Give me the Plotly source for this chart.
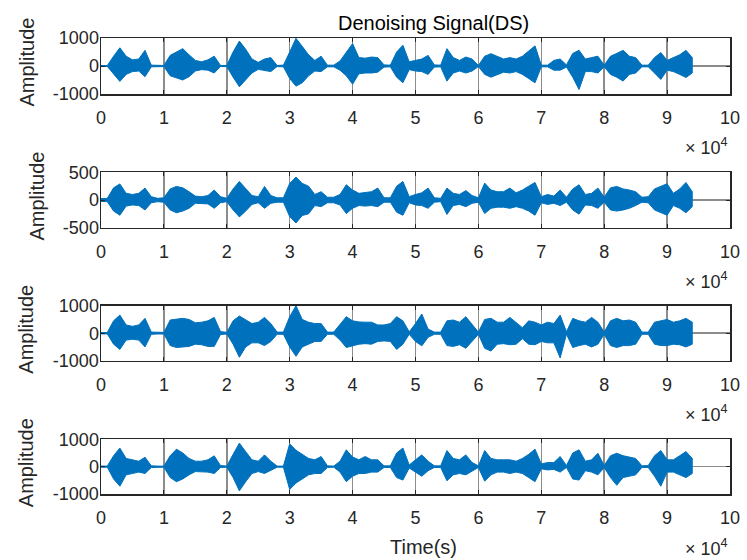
import numpy as np
import plotly.graph_objects as go

# ---------------- data (envelope of each waveform, read every 1000 samples) ----------------
SAMPLE_STEP = 1000
X_TICK_VALUES = [0, 10000, 20000, 30000, 40000, 50000, 60000, 70000, 80000, 90000, 100000]
X_TICK_LABELS = ["0", "1", "2", "3", "4", "5", "6", "7", "8", "9", "10"]

s1_upper = [15, 15, 350, 650, 350, 220, 250, 560, 30, 15,
            20, 380, 500, 620, 400, 200, 150, 220, 350, 20,
            20, 500, 890, 600, 250, 130, 250, 300, 20, 30,
            500, 990, 700, 400, 200, 350, 30, 30, 180, 500,
            800, 300, 280, 320, 300, 40, 30, 500, 740, 150,
            200, 250, 380, 40, 30, 620, 300, 200, 320, 250,
            20, 350, 440, 350, 250, 300, 250, 350, 550, 720,
            30, 30, 200, 250, 40, 450, 560, 250, 300, 350,
            30, 350, 450, 560, 350, 300, 30, 30, 300, 480,
            200, 300, 400, 560, 300]
s1_lower = [-15, -15, -300, -550, -300, -200, -180, -380, -30, -15,
            -20, -350, -420, -500, -380, -180, -130, -150, -250, -20,
            -20, -400, -740, -500, -250, -120, -150, -200, -20, -30,
            -450, -720, -600, -350, -180, -200, -30, -30, -150, -350,
            -650, -280, -250, -250, -220, -40, -30, -400, -600, -130,
            -180, -200, -300, -40, -30, -540, -250, -180, -250, -180,
            -20, -300, -400, -300, -220, -250, -200, -300, -450, -600,
            -30, -30, -150, -150, -40, -400, -840, -200, -200, -250,
            -30, -300, -400, -540, -300, -250, -30, -30, -250, -480,
            -150, -200, -300, -410, -250]

s2_upper = [25, 30, 220, 290, 120, 100, 120, 215, 60, 30,
            40, 200, 245, 220, 150, 70, 60, 80, 180, 60,
            30, 200, 335, 200, 80, 60, 245, 80, 40, 40,
            300, 415, 300, 250, 100, 150, 50, 50, 100, 275,
            180, 120, 130, 150, 215, 40, 40, 250, 335, 60,
            100, 130, 215, 40, 30, 215, 120, 100, 170, 80,
            40, 305, 180, 150, 150, 215, 130, 180, 250, 317,
            60, 100, 70, 180, 50, 200, 275, 100, 120, 215,
            50, 220, 245, 200, 180, 150, 50, 60, 200, 250,
            293, 120, 200, 317, 150]
s2_lower = [-25, -30, -200, -275, -110, -90, -100, -180, -50, -30,
            -40, -180, -230, -200, -150, -60, -60, -70, -150, -50,
            -30, -180, -305, -200, -80, -50, -150, -60, -40, -40,
            -300, -415, -280, -250, -100, -120, -50, -50, -90, -245,
            -150, -100, -110, -100, -120, -40, -40, -220, -275, -50,
            -90, -100, -150, -40, -30, -260, -100, -80, -120, -60,
            -40, -245, -150, -130, -130, -150, -120, -150, -200, -275,
            -50, -80, -60, -100, -40, -180, -255, -90, -100, -150,
            -40, -180, -200, -180, -150, -100, -40, -50, -180, -230,
            -275, -100, -150, -230, -120]

s3_upper = [25, 25, 450, 660, 300, 250, 300, 540, 40, 30,
            30, 480, 520, 540, 500, 380, 400, 450, 575, 60,
            30, 450, 625, 500, 350, 400, 575, 350, 40, 40,
            600, 1000, 500, 400, 350, 350, 40, 40, 300, 600,
            450, 410, 400, 400, 300, 300, 350, 600, 450, 50,
            350, 700, 150, 40, 40, 450, 480, 400, 600, 300,
            40, 500, 540, 400, 400, 575, 400, 200, 450, 400,
            300, 400, 350, 660, 50, 540, 450, 400, 575, 400,
            40, 450, 540, 450, 480, 400, 40, 40, 400, 450,
            500, 400, 450, 540, 400]
s3_lower = [-25, -25, -400, -590, -250, -220, -250, -500, -40, -30,
            -30, -450, -520, -500, -480, -400, -420, -480, -480, -50,
            -30, -400, -875, -500, -350, -350, -450, -300, -40, -40,
            -500, -840, -500, -400, -300, -300, -40, -40, -250, -520,
            -450, -400, -380, -400, -300, -280, -300, -590, -400, -40,
            -300, -460, -150, -40, -40, -450, -480, -420, -550, -300,
            -40, -550, -650, -400, -380, -420, -400, -200, -400, -420,
            -300, -350, -350, -900, -40, -520, -450, -400, -500, -400,
            -40, -450, -520, -450, -450, -400, -40, -40, -400, -450,
            -450, -400, -420, -500, -400]

s4_upper = [20, 20, 400, 680, 300, 250, 200, 345, 30, 20,
            20, 400, 640, 500, 300, 200, 200, 250, 395, 40,
            20, 450, 860, 550, 250, 200, 430, 200, 20, 20,
            835, 600, 450, 300, 250, 370, 30, 20, 200, 615,
            350, 250, 370, 250, 250, 30, 30, 500, 680, 60,
            250, 430, 200, 30, 30, 590, 300, 250, 430, 150,
            30, 590, 300, 250, 250, 250, 200, 300, 450, 640,
            100, 150, 150, 370, 40, 500, 615, 200, 250, 490,
            40, 400, 490, 400, 350, 300, 30, 40, 400, 590,
            250, 250, 400, 550, 300]
s4_lower = [-20, -20, -450, -715, -300, -250, -200, -250, -30, -20,
            -20, -400, -550, -450, -300, -180, -180, -200, -250, -30,
            -20, -400, -885, -550, -250, -180, -250, -150, -20, -20,
            -835, -600, -450, -300, -250, -250, -30, -20, -200, -550,
            -350, -250, -250, -200, -200, -30, -30, -400, -490, -50,
            -200, -350, -150, -30, -30, -515, -300, -250, -300, -150,
            -30, -530, -300, -200, -200, -250, -200, -250, -400, -550,
            -80, -120, -100, -200, -30, -450, -490, -150, -200, -300,
            -30, -400, -680, -400, -350, -300, -30, -30, -350, -715,
            -200, -200, -300, -400, -250]

series = [(s1_upper, s1_lower), (s2_upper, s2_lower), (s3_upper, s3_lower), (s4_upper, s4_lower)]
y_ranges = [(-1000, 1000), (-500, 500), (-1000, 1000), (-1000, 1000)]
y_tick_values = [[-1000, 0, 1000], [-500, 0, 500], [-1000, 0, 1000], [-1000, 0, 1000]]
y_tick_labels = [["-1000", "0", "1000"], ["-500", "0", "500"], ["-1000", "0", "1000"], ["-1000", "0", "1000"]]

# ---------------- layout geometry (pixels) ----------------
W, H = 747, 560
X0, X1 = 101, 730
AX_TOPS = [38, 172.3, 305.7, 439.3]
AX_BOTS = [94, 227.7, 360.7, 494]
BLUE = "#0072BD"
DARK = "#262626"
FONT = "Liberation Sans, Arial, Helvetica, sans-serif"

fig = go.Figure()
layout = dict(template="none", width=W, height=H,
              margin=dict(l=0, r=0, t=0, b=0, pad=0, autoexpand=False),
              paper_bgcolor="white", plot_bgcolor="white", showlegend=False,
              font=dict(family=FONT, color=DARK, size=18))
annotations = []

for k, (up, lo) in enumerate(series):
    xs = (np.arange(len(up)) * SAMPLE_STEP).tolist()
    px = xs + xs[::-1]
    py = list(up) + list(lo)[::-1]
    xa = "x" if k == 0 else f"x{k+1}"
    ya = "y" if k == 0 else f"y{k+1}"
    fig.add_trace(go.Scatter(x=px, y=py, mode="lines", fill="toself",
                             fillcolor=BLUE, line=dict(color=BLUE, width=1),
                             xaxis=xa, yaxis=ya, hoverinfo="skip"))
    dom_y = [1 - AX_BOTS[k] / H, 1 - AX_TOPS[k] / H]
    xkey = "xaxis" if k == 0 else f"xaxis{k+1}"
    ykey = "yaxis" if k == 0 else f"yaxis{k+1}"
    layout[xkey] = dict(domain=[X0 / W, X1 / W], range=[0, 100000], anchor=ya, automargin=False,
                        tickvals=X_TICK_VALUES, ticktext=X_TICK_LABELS,
                        showgrid=True, gridcolor="#8c8c8c", gridwidth=1.5,
                        zeroline=False, showline=True, linecolor=DARK, linewidth=1.5,
                        mirror="allticks", ticks="inside", ticklen=4, tickcolor=DARK,
                        tickfont=dict(size=18, color=DARK), ticklabelstandoff=7)
    layout[ykey] = dict(domain=dom_y, range=list(y_ranges[k]), anchor=xa, automargin=False,
                        tickvals=y_tick_values[k], ticktext=y_tick_labels[k],
                        showgrid=True, gridcolor="#8c8c8c", gridwidth=1.5,
                        zeroline=False, showline=True, linecolor=DARK, linewidth=1.5,
                        mirror="allticks", ticks="inside", ticklen=4, tickcolor=DARK,
                        tickfont=dict(size=18, color=DARK), ticklabelstandoff=-3)
    # y label
    lab_x = 36 if k == 1 else 26
    annotations.append(dict(text="Amplitude", x=lab_x / W, y=1 - ((AX_TOPS[k] + AX_BOTS[k]) / 2 - 3.5) / H,
                            xref="paper", yref="paper", showarrow=False, textangle=-90,
                            xanchor="center", yanchor="middle", font=dict(size=20, color=DARK)))
    # exponent label
    annotations.append(dict(text="× 10<sup>4</sup>", x=X1 / W, y=1 - (AX_BOTS[k] + 53) / H,
                            xref="paper", yref="paper", showarrow=False,
                            xanchor="right", yanchor="middle", font=dict(size=18, color=DARK)))

annotations.append(dict(text="Denoising Signal(DS)", x=433 / W, y=1 - 23 / H, xref="paper", yref="paper",
                        showarrow=False, xanchor="center", yanchor="middle", font=dict(size=20, color="black")))
annotations.append(dict(text="Time(s)", x=424 / W, y=1 - 546.5 / H, xref="paper", yref="paper",
                        showarrow=False, xanchor="center", yanchor="middle", font=dict(size=20, color=DARK)))

layout["annotations"] = annotations
fig.update_layout(**layout)
fig.write_html("out.html", config={"displayModeBar": False, "staticPlot": True},
               post_script="document.body.style.margin='0';document.body.style.padding='0';"
                           "document.body.style.overflow='hidden';")
